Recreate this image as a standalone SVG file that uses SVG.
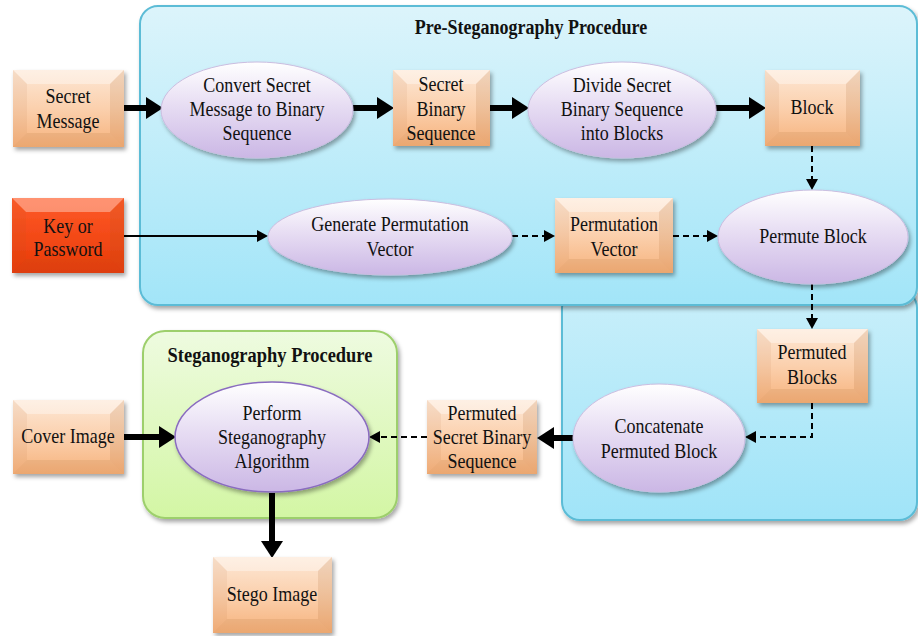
<svg xmlns="http://www.w3.org/2000/svg" width="918" height="636" viewBox="0 0 918 636">
<defs>
<linearGradient id="gBlue" x1="0" y1="0" x2="0" y2="1">
<stop offset="0" stop-color="#dcf4fb"/><stop offset="1" stop-color="#a2e5f8"/>
</linearGradient>
<linearGradient id="gBlue2" x1="0" y1="0" x2="0" y2="1">
<stop offset="0" stop-color="#c9effa"/><stop offset="1" stop-color="#a0e4f8"/>
</linearGradient>
<linearGradient id="gGreen" x1="0" y1="0" x2="0" y2="1">
<stop offset="0" stop-color="#eefbe0"/><stop offset="1" stop-color="#d3f6a4"/>
</linearGradient>
<linearGradient id="gBox" x1="0" y1="0" x2="0" y2="1">
<stop offset="0" stop-color="#fde8d6"/><stop offset="0.5" stop-color="#fbd0ad"/><stop offset="1" stop-color="#f6b27c"/>
</linearGradient>
<linearGradient id="gRed" x1="0" y1="0" x2="0" y2="1">
<stop offset="0" stop-color="#ff5a28"/><stop offset="1" stop-color="#e83a08"/>
</linearGradient>
<linearGradient id="gEll" x1="0" y1="0" x2="0" y2="1">
<stop offset="0" stop-color="#ffffff"/><stop offset="0.45" stop-color="#e7ddf3"/><stop offset="1" stop-color="#cbb7e5"/>
</linearGradient>
<filter id="sh" x="-10%" y="-10%" width="125%" height="130%">
<feDropShadow dx="2" dy="3" stdDeviation="2" flood-color="#000" flood-opacity="0.35"/>
</filter>
<marker id="ahT" markerUnits="userSpaceOnUse" markerWidth="17" markerHeight="22" refX="0" refY="11" orient="auto">
<path d="M0,0 L17,11 L0,22 z" fill="#000"/>
</marker>
<marker id="ah" markerUnits="userSpaceOnUse" markerWidth="11" markerHeight="12" refX="0" refY="6" orient="auto">
<path d="M0,0 L11,6 L0,12 z" fill="#000"/>
</marker>
<style>
text{font-family:"Liberation Serif","Times New Roman",serif;font-size:20px;fill:#111;text-anchor:middle;transform-box:fill-box;transform-origin:center;transform:scaleX(0.9)}
.title{font-weight:bold}
.box{fill:url(#gBox);filter:url(#sh)}
.red{fill:url(#gRed);filter:url(#sh)}
.bt{fill:#ffffff;opacity:0.35}
.bl{fill:#a05a20;opacity:0.08}
.br{fill:#a05a20;opacity:0.14}
.bb{fill:#a05a20;opacity:0.12}
.ell{fill:url(#gEll);stroke:#cbbde0;stroke-width:1;filter:url(#sh)}
.thick{stroke:#000;stroke-width:6;fill:none;marker-end:url(#ahT)}
.thin{stroke:#000;stroke-width:2;fill:none;marker-end:url(#ah)}
.dash{stroke:#000;stroke-width:2;fill:none;stroke-dasharray:6 4;marker-end:url(#ah)}
</style>
</defs>

<g id="regions">
<rect x="562" y="290" width="355" height="230" rx="18" fill="url(#gBlue2)" stroke="#5cbcd6" stroke-width="2" filter="url(#sh)"/>
<rect x="140" y="6" width="777" height="299" rx="18" fill="url(#gBlue)" stroke="#5cbcd6" stroke-width="2" filter="url(#sh)"/>
<text class="title" x="531" y="34">Pre-Steganography Procedure</text>
<rect x="143" y="331" width="254" height="187" rx="22" fill="url(#gGreen)" stroke="#9dcf6c" stroke-width="2" filter="url(#sh)"/>
<text class="title" x="270" y="362" style="font-size:20.5px">Steganography Procedure</text>
</g>

<g id="connectors">
<line class="thick" x1="124" y1="108" x2="146" y2="108"/>
<line class="thick" x1="353" y1="108" x2="377" y2="108"/>
<line class="thick" x1="490" y1="108" x2="512" y2="108"/>
<line class="thick" x1="715" y1="108" x2="749" y2="108"/>
<line class="dash" x1="812" y1="146" x2="812" y2="179"/>
<line class="thin" x1="124" y1="236" x2="257" y2="236"/>
<line class="dash" x1="512" y1="236" x2="544" y2="236"/>
<line class="dash" x1="673" y1="236" x2="707" y2="236"/>
<line class="dash" x1="812" y1="284" x2="812" y2="318"/>
<path class="dash" d="M812,403 V437 H756"/>
<line class="thick" x1="573" y1="438" x2="554" y2="438"/>
<line class="dash" x1="427" y1="437" x2="380" y2="437"/>
<line class="thick" x1="124" y1="437" x2="159" y2="437"/>
<line class="thick" x1="272" y1="493" x2="272" y2="541"/>
</g>

<g id="secret-message">
<rect class="box" x="13" y="70" width="111" height="77"/>
<polygon class="bt" points="13,70 124,70 110,84 27,84"/>
<polygon class="bl" points="13,70 27,84 27,133 13,147"/>
<polygon class="br" points="124,70 124,147 110,133 110,84"/>
<polygon class="bb" points="13,147 124,147 110,133 27,133"/>
<text x="68" y="103">Secret</text>
<text x="68" y="128">Message</text>
</g>

<g id="convert">
<ellipse class="ell" cx="257" cy="110" rx="96" ry="48"/>
<text x="257" y="92">Convert Secret</text>
<text x="257" y="116">Message to Binary</text>
<text x="257" y="140">Sequence</text>
</g>

<g id="secret-binary-sequence">
<rect class="box" x="393" y="70" width="97" height="76"/>
<polygon class="bt" points="393,70 490,70 476,84 407,84"/>
<polygon class="bl" points="393,70 407,84 407,132 393,146"/>
<polygon class="br" points="490,70 490,146 476,132 476,84"/>
<polygon class="bb" points="393,146 490,146 476,132 407,132"/>
<text x="441" y="91">Secret</text>
<text x="441" y="116">Binary</text>
<text x="441" y="140">Sequence</text>
</g>

<g id="divide">
<ellipse class="ell" cx="622" cy="110" rx="94" ry="48"/>
<text x="622" y="92">Divide Secret</text>
<text x="622" y="116">Binary Sequence</text>
<text x="622" y="140">into Blocks</text>
</g>

<g id="block">
<rect class="box" x="765" y="70" width="95" height="76"/>
<polygon class="bt" points="765,70 860,70 846,84 779,84"/>
<polygon class="bl" points="765,70 779,84 779,132 765,146"/>
<polygon class="br" points="860,70 860,146 846,132 846,84"/>
<polygon class="bb" points="765,146 860,146 846,132 779,132"/>
<text x="812" y="114">Block</text>
</g>

<g id="key-or-password">
<rect class="red" x="12" y="198" width="112" height="75"/>
<polygon class="bt" points="12,198 124,198 110,212 26,212" opacity="0.2"/>
<polygon class="bl" points="12,198 26,212 26,259 12,273"/>
<polygon class="br" points="124,198 124,273 110,259 110,212"/>
<polygon class="bb" points="12,273 124,273 110,259 26,259"/>
<text x="68" y="233">Key or</text>
<text x="68" y="256">Password</text>
</g>

<g id="generate">
<ellipse class="ell" cx="390" cy="237" rx="122" ry="38"/>
<text x="390" y="231">Generate Permutation</text>
<text x="390" y="256">Vector</text>
</g>

<g id="permutation-vector">
<rect class="box" x="555" y="198" width="118" height="75"/>
<polygon class="bt" points="555,198 673,198 659,212 569,212"/>
<polygon class="bl" points="555,198 569,212 569,259 555,273"/>
<polygon class="br" points="673,198 673,273 659,259 659,212"/>
<polygon class="bb" points="555,273 673,273 659,259 569,259"/>
<text x="614" y="231">Permutation</text>
<text x="614" y="256">Vector</text>
</g>

<g id="permute-block">
<ellipse class="ell" cx="813" cy="237" rx="95" ry="47"/>
<text x="813" y="243">Permute Block</text>
</g>

<g id="permuted-blocks">
<rect class="box" x="757" y="329" width="111" height="74"/>
<polygon class="bt" points="757,329 868,329 854,343 771,343"/>
<polygon class="bl" points="757,329 771,343 771,389 757,403"/>
<polygon class="br" points="868,329 868,403 854,389 854,343"/>
<polygon class="bb" points="757,403 868,403 854,389 771,389"/>
<text x="812" y="359">Permuted</text>
<text x="812" y="384">Blocks</text>
</g>

<g id="concatenate">
<ellipse class="ell" cx="659" cy="438" rx="86" ry="54"/>
<text x="659" y="433">Concatenate</text>
<text x="659" y="458">Permuted Block</text>
</g>

<g id="permuted-secret-binary-sequence">
<rect class="box" x="427" y="400" width="110" height="74"/>
<polygon class="bt" points="427,400 537,400 523,414 441,414"/>
<polygon class="bl" points="427,400 441,414 441,460 427,474"/>
<polygon class="br" points="537,400 537,474 523,460 523,414"/>
<polygon class="bb" points="427,474 537,474 523,460 441,460"/>
<text x="482" y="420">Permuted</text>
<text x="482" y="444">Secret Binary</text>
<text x="482" y="468">Sequence</text>
</g>

<g id="cover-image">
<rect class="box" x="13" y="400" width="111" height="74"/>
<polygon class="bt" points="13,400 124,400 110,414 27,414"/>
<polygon class="bl" points="13,400 27,414 27,460 13,474"/>
<polygon class="br" points="124,400 124,474 110,460 110,414"/>
<polygon class="bb" points="13,474 124,474 110,460 27,460"/>
<text x="68" y="443">Cover Image</text>
</g>

<g id="perform">
<ellipse class="ell" cx="272" cy="437" rx="97" ry="55" style="stroke:#8a6cc0;stroke-width:1.5"/>
<text x="272" y="420">Perform</text>
<text x="272" y="444">Steganography</text>
<text x="272" y="468">Algorithm</text>
</g>

<g id="stego-image">
<rect class="box" x="213" y="557" width="119" height="76"/>
<polygon class="bt" points="213,557 332,557 318,571 227,571"/>
<polygon class="bl" points="213,557 227,571 227,619 213,633"/>
<polygon class="br" points="332,557 332,633 318,619 318,571"/>
<polygon class="bb" points="213,633 332,633 318,619 227,619"/>
<text x="272" y="601">Stego Image</text>
</g>
</svg>
